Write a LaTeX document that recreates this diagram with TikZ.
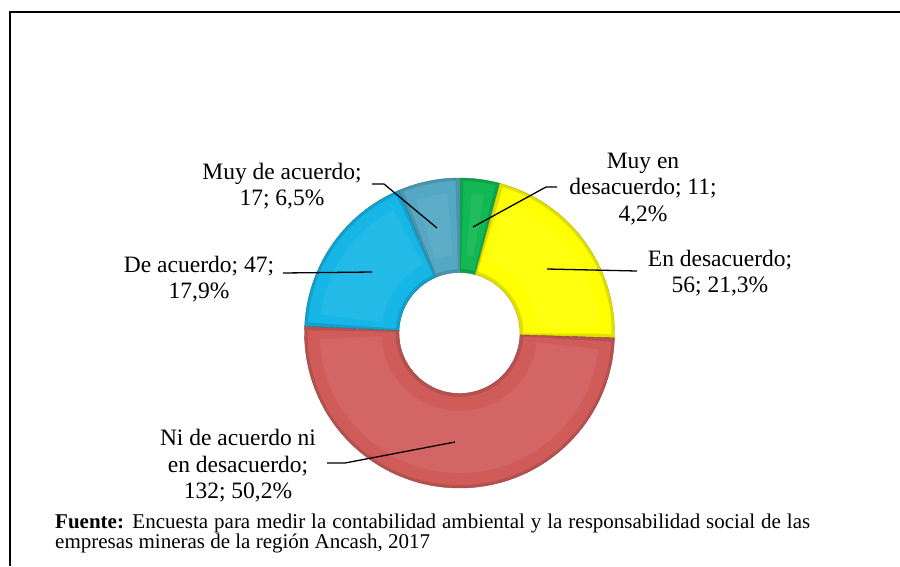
\documentclass[tikz,border=0pt]{standalone}
\usepackage{fontspec}
\setmainfont{Liberation Serif}
\definecolor{cGreen}{RGB}{18,184,84}
\definecolor{cYellow}{RGB}{255,255,0}
\definecolor{cRed}{RGB}{208,92,90}
\definecolor{cBlue}{RGB}{22,182,230}
\definecolor{cTeal}{RGB}{84,168,196}
\newcommand\donutseg[3]{%
  \fill[#3!88!black] (#1:155) arc[start angle=#1,end angle=#2,radius=155]
     -- (#2:60.5) arc[start angle=#2,end angle=#1,radius=60.5] -- cycle;
  \fill[#3] (#1-1.5:152) arc[start angle=#1-1.5,end angle=#2+1.5,radius=152]
     -- (#2+1.5:64) arc[start angle=#2+1.5,end angle=#1-1.5,radius=64] -- cycle;
  \fill[#3!94!white] (#1-5:140) arc[start angle=#1-5,end angle=#2+5,radius=140]
     -- (#2+5:78) arc[start angle=#2+5,end angle=#1-5,radius=78] -- cycle;
  \draw[#3!70!black,line width=0.4pt] (#1:155) arc[start angle=#1,end angle=#2,radius=155]
     -- (#2:60.5) arc[start angle=#2,end angle=#1,radius=60.5] -- cycle;
}
\begin{document}
\begin{tikzpicture}[x=1pt,y=-1pt,
  lbl/.style={align=center,inner sep=0pt,font=\fontsize{23.5}{26.5}\selectfont},
  leader/.style={draw=black,line width=1.3pt}]
\useasboundingbox (0,0) rectangle (900,566);
\fill[white] (0,0) rectangle (900,566);
% frame
\draw[line width=1.8pt] (10,566) -- (10,12) -- (900,12);
% donut
\begin{scope}[shift={(459.5,333)},yscale=-1]
  \donutseg{90}{74.88}{cGreen}
  \donutseg{74.88}{-1.8}{cYellow}
  \donutseg{-1.8}{-182.52}{cRed}
  \donutseg{177.48}{113.04}{cBlue}
  \donutseg{113.04}{90}{cTeal}
\end{scope}
% labels
\node[lbl] (mda) at (282,186) {Muy de acuerdo;\\17; 6,5\%};
\node[lbl] (med) at (643,189) {Muy en\\desacuerdo; 11;\\4,2\%};
\node[lbl] (ed) at (720,273) {En desacuerdo;\\56; 21,3\%};
\node[lbl] (da) at (199,279) {De acuerdo; 47;\\17,9\%};
\node[lbl] (ni) at (238,466) {Ni de acuerdo ni\\en desacuerdo;\\132; 50,2\%};
% leader points
\coordinate (mdaIn) at (437,228);
\coordinate (mdaEl) at (384,184);
\coordinate (mdaEnd) at (372,184);
\coordinate (medIn) at (473,227);
\coordinate (medEl) at (546,187);
\coordinate (medEnd) at (557,187);
\coordinate (edIn) at (547,269);
\coordinate (edEnd) at (637,271);
\coordinate (daIn) at (372,272);
\coordinate (daEnd) at (283,273);
\coordinate (niIn) at (455,442);
\coordinate (niEl) at (345,463);
\coordinate (niEnd) at (327,463);
\draw[leader] (mdaIn) -- (mdaEl) -- (mdaEnd);
\draw[leader] (medIn) -- (medEl) -- (medEnd);
\draw[leader] (edIn) -- (edEnd);
\draw[leader] (daIn) -- (daEnd);
\draw[leader] (niIn) -- (niEl) -- (niEnd);
% source
\node[anchor=base west,inner sep=0pt,align=left,font=\fontsize{21}{20}\selectfont] (src) at (55,548)
  {\makebox[755pt][s]{\textbf{Fuente:} Encuesta para medir la contabilidad ambiental y la responsabilidad social de las}\\empresas mineras de la región Ancash, 2017};
\end{tikzpicture}
\end{document}
